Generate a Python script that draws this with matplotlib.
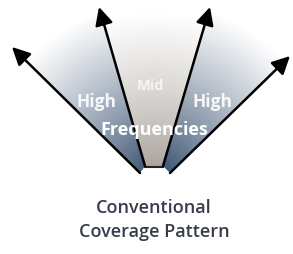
import numpy as np
import matplotlib.pyplot as plt
from matplotlib.patches import Polygon
from matplotlib.colors import to_rgb

# arrow start / tip points (pixel space, y down)
arrow_start = [(140, 173), (145, 166), (163, 166), (170, 173)]
arrow_tip = [(12, 47), (99, 7), (210, 7), (290, 56)]
wedge_colors = ['#2a4466', '#a39c94', '#2a4466']
wedge_fade = [170, 160, 170]
labels = ['High', 'Mid', 'High']
label_pos = [(97, 102), (150, 86), (213, 102)]
center_label = 'Frequencies'
caption = ['Conventional', 'Coverage Pattern']

W, H = 293, 254
fig = plt.figure(figsize=(W / 100, H / 100), dpi=100)
ax = fig.add_axes([0, 0, 1, 1])
ax.set_xlim(0, W)
ax.set_ylim(H, 0)
ax.axis('off')

base = (155, 172)
yy, xx = np.mgrid[0:H, 0:W]
r = np.hypot(xx - base[0], yy - base[1])
for i in range(3):
    a, b = arrow_start[i], arrow_start[i + 1]
    ta, tb = arrow_tip[i], arrow_tip[i + 1]
    t = np.clip(r / wedge_fade[i], 0, 1)[..., None] ** 0.8
    c = np.array(to_rgb(wedge_colors[i]))
    img = c * (1 - t) + np.array([1, 1, 1]) * t
    im = ax.imshow(img, extent=(0, W, H, 0), zorder=1, interpolation='bilinear')
    poly = Polygon([a, ta, tb, b], closed=True, transform=ax.transData, facecolor='none', edgecolor='none')
    ax.add_patch(poly)
    im.set_clip_path(poly)
ax.set_xlim(0, W)
ax.set_ylim(H, 0)

# small dark base between inner arrows
ax.plot([arrow_start[1][0], arrow_start[2][0]], [arrow_start[1][1] + 1, arrow_start[2][1] + 1], color='#222222', lw=1.5, zorder=3)

for s, e in zip(arrow_start, arrow_tip):
    ax.annotate('', xy=e, xytext=s, zorder=4,
                arrowprops=dict(arrowstyle='-|>,head_length=0.9,head_width=0.45', color='black', lw=1.8, shrinkA=0, shrinkB=0, mutation_scale=12))

for lab, (x, y) in zip(labels, label_pos):
    ax.text(x, y, lab, color='white', fontsize=10.5 if lab == 'Mid' else 12.5, ha='center', va='center',
            family='Open Sans', weight='bold', alpha=0.75 if lab == 'Mid' else 0.9, zorder=5)
ax.text(154, 130, center_label, color='white', fontsize=13, ha='center', va='center',
        family='Open Sans', weight='bold', zorder=5)

ax.text(154, 208, caption[0], color='#363c4a', fontsize=13, ha='center', va='center', family='Open Sans', weight='semibold')
ax.text(154, 232, caption[1], color='#363c4a', fontsize=13, ha='center', va='center', family='Open Sans', weight='semibold')

fig.savefig('out.png', dpi=100)
